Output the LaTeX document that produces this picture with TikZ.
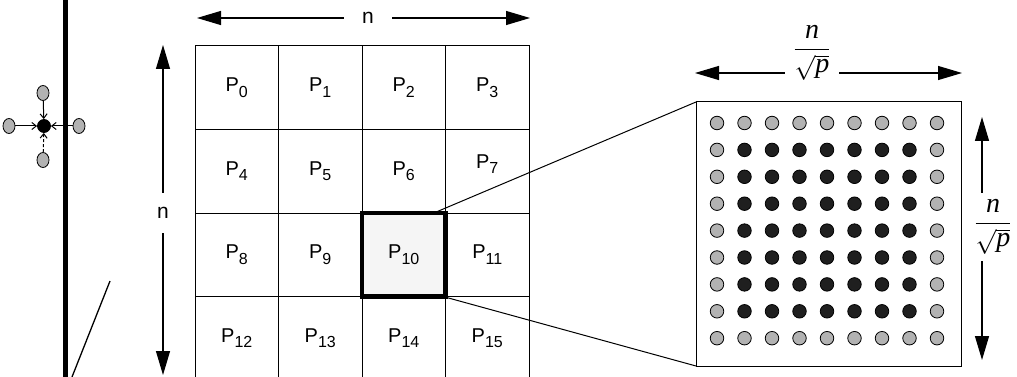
\documentclass[tikz,border=0pt]{standalone}
\usepackage{fontspec}
\setmainfont{Liberation Serif}
\setsansfont{Liberation Sans}
\usetikzlibrary{arrows.meta,shapes.geometric}
\newcommand{\Pl}[1]{P\raisebox{-5.5pt}{\fontsize{16}{16}\selectfont #1}}
\newcommand{\npfrac}{$\displaystyle\frac{\textit{n}\vphantom{p}}{\sqrt{\textit{p}}}$}
\tikzset{
  cell/.style={draw, line width=1pt, minimum width=83.5pt, minimum height=83.5pt,
    inner sep=0pt, outer sep=0pt, font=\sffamily\fontsize{20}{22}\selectfont},
  plab/.style={font=\sffamily\fontsize{20}{22}\selectfont},
  bigarrow/.style={line width=1.2pt, {Triangle[length=24pt,width=14pt]}-{Triangle[length=24pt,width=14pt]}},
  gdot/.style={circle, draw, line width=0.8pt, fill=black!30, minimum size=13.5pt, inner sep=0pt},
  kdot/.style={circle, draw, line width=0.8pt, fill=black!88, minimum size=13.5pt, inner sep=0pt},
  gell/.style={ellipse, draw, line width=0.8pt, fill=black!30, minimum width=12pt, minimum height=15pt, inner sep=0pt},
  smallarrow/.style={line width=1pt, -{Straight Barb[length=4.5pt,width=7pt]}},
  nlabel/.style={fill=white, font=\sffamily\fontsize{21}{22}\selectfont},
  fraclabel/.style={fill=white, font=\fontsize{28}{32}\selectfont, inner sep=3pt}
}
\begin{document}
\begin{tikzpicture}[x=1pt,y=-1pt]
\clip (0,0) rectangle (1017,377);
\fill[white] (0,0) rectangle (1017,377);
% thick wall line and diagonal
\coordinate (wt) at (65.5,0);
\coordinate (wb) at (65.5,377);
\draw[line width=4.5pt] (wt) -- (wb);
\coordinate (da) at (110,281);
\coordinate (db) at (72,377);
\draw[line width=1.3pt] (da) -- (db);
% small stencil
\node[circle, draw, line width=0.8pt, fill=black, minimum size=13pt, inner sep=0pt] (c) at (44,126) {};
\node[gell] (ct) at (43,93) {};
\node[gell] (cl) at (9,126) {};
\node[gell] (cr) at (79,126) {};
\node[gell] (cb) at (43,160) {};
\draw[smallarrow] (ct) -- (c);
\draw[smallarrow] (cl) -- (c);
\draw[smallarrow] (cr) -- (c);
\draw[smallarrow, densely dashed] (cb) -- (c);
% grid
\foreach \r in {0,...,3}{
  \foreach \c in {0,...,3}{
    \pgfmathtruncatemacro{\k}{4*\r+\c}
    \node[cell] (p\k) at ({195+83.5*\c+41.75},{46+83.5*\r+41.75}) {};
  }
}
\foreach \k in {0,...,15}{
  \ifnum\k=7
    \node[plab] at ([yshift=7pt]p\k.center) {\Pl{\k}};
  \else\ifnum\k=10
    \relax
  \else
    \node[plab] at (p\k.center) {\Pl{\k}};
  \fi\fi
}
\node[cell, fill=black!4, line width=4.5pt] (p10b) at (p10.center) {\Pl{10}};
% top n arrow
\coordinate (ta) at (197,18);
\coordinate (tb) at (530,18);
\draw[bigarrow] (ta) -- (tb);
\node[nlabel, inner xsep=18pt] (tn) at (368,18) {n};
% left n arrow
\coordinate (la) at (163,45);
\coordinate (lb) at (163,375);
\draw[bigarrow] (la) -- (lb);
\node[nlabel, inner ysep=14pt] (ln) at (163,213) {n};
% zoom box
\node[draw, line width=1pt, minimum width=265pt, minimum height=264pt, inner sep=0pt, outer sep=0pt] (zb) at (828.5,234) {};
\coordinate (z1) at (435,212.5);
\coordinate (z2) at (443,296.5);
\draw[line width=1pt] (z1) -- (zb.north west);
\draw[line width=1pt] (z2) -- (zb.south west);
\foreach \i in {0,...,8}{
  \foreach \j in {0,...,8}{
    \pgfmathtruncatemacro{\inner}{(\i>0)&&(\i<8)&&(\j>0)&&(\j<8)}
    \ifnum\inner=1
      \node[kdot] (d\i\j) at ({717+27.5*\i},{123+26.9*\j}) {};
    \else
      \node[gdot] (d\i\j) at ({717+27.5*\i},{123+26.9*\j}) {};
    \fi
  }
}
% n/sqrt p arrows
\coordinate (fa) at (695,73);
\coordinate (fb) at (962,73);
\draw[bigarrow] (fa) -- (fb);
\node[fraclabel, inner xsep=8pt] (ft) at (812,53) {\npfrac};
\coordinate (ra) at (982,117);
\coordinate (rb) at (982,360);
\draw[bigarrow] (ra) -- (rb);
\node[fraclabel, inner ysep=6pt] (fr) at (993,227) {\npfrac};
\end{tikzpicture}
\end{document}
